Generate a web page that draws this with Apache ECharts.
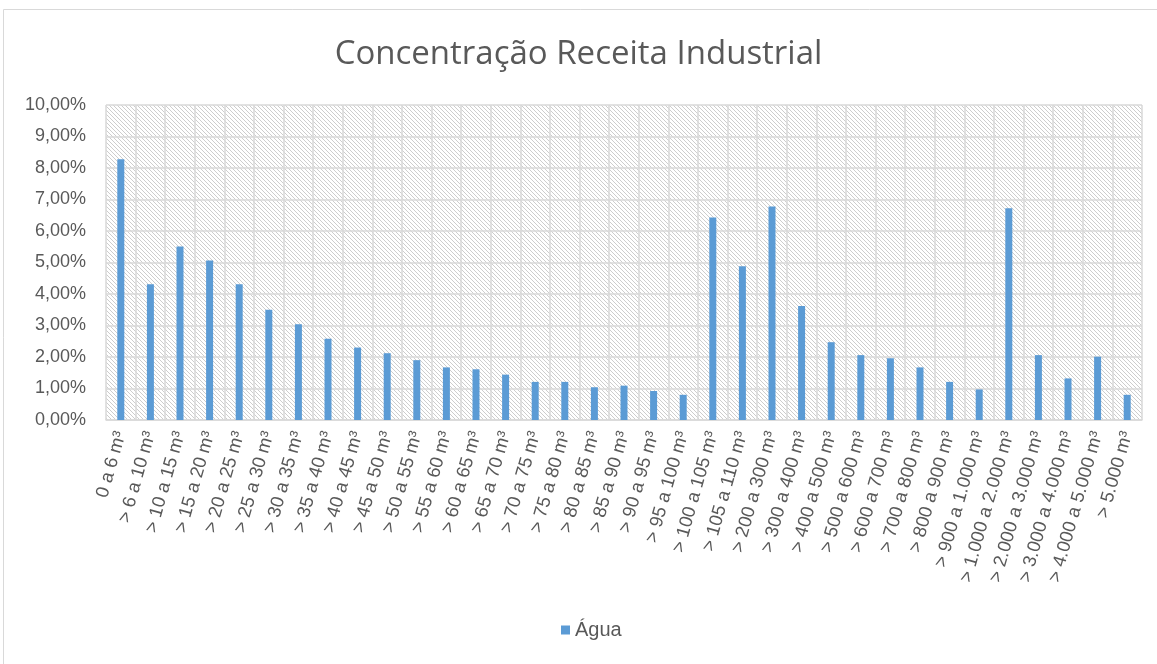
<!DOCTYPE html>
<html><head><meta charset="utf-8">
<script src="https://cdn.jsdelivr.net/npm/echarts@6/dist/echarts.min.js"></script>
<style>html,body{margin:0;padding:0;background:#fff;}#c{width:1157px;height:664px;}</style>
</head><body><div id="c"></div>
<script>
const categories = ["0 a 6 m³","> 6 a 10 m³","> 10 a 15 m³","> 15 a 20 m³","> 20 a 25 m³","> 25 a 30 m³","> 30 a 35 m³","> 35 a 40 m³","> 40 a 45 m³","> 45 a 50 m³","> 50 a 55 m³","> 55 a 60 m³","> 60 a 65 m³","> 65 a 70 m³","> 70 a 75 m³","> 75 a 80 m³","> 80 a 85 m³","> 85 a 90 m³","> 90 a 95 m³","> 95 a 100 m³","> 100 a 105 m³","> 105 a 110 m³","> 200 a 300 m³","> 300 a 400 m³","> 400 a 500 m³","> 500 a 600 m³","> 600 a 700 m³","> 700 a 800 m³","> 800 a 900 m³","> 900 a 1.000 m³","> 1.000 a 2.000 m³","> 2.000 a 3.000 m³","> 3.000 a 4.000 m³","> 4.000 a 5.000 m³","> 5.000 m³"];
const agua = [8.28,4.31,5.51,5.06,4.31,3.50,3.04,2.58,2.30,2.12,1.90,1.67,1.61,1.44,1.21,1.21,1.04,1.09,0.92,0.80,6.43,4.88,6.78,3.62,2.47,2.06,1.96,1.67,1.21,0.97,6.72,2.06,1.32,2.01,0.80];
const seriesName = "Água";
const titleText = "Concentração Receita Industrial";

const tile = document.createElement('canvas');
tile.width = 4; tile.height = 4;
const tc = tile.getContext('2d');
tc.fillStyle = '#ffffff'; tc.fillRect(0,0,4,4);
tc.strokeStyle = '#cdcdcd'; tc.lineWidth = 1;
tc.beginPath(); tc.moveTo(-1,-1); tc.lineTo(5,5); tc.stroke();

const chart = echarts.init(document.getElementById('c'));
chart.setOption({
  animation: false,
  backgroundColor: '#ffffff',
  title: {text: titleText, left: 'center', top: 33,
    textStyle: {fontFamily: "'Open Sans','Liberation Sans',sans-serif", fontSize: 33, fontWeight: 'normal', color: '#595959'}},
  graphic: [
    {type:'rect', shape:{x:3.5, y:9.5, width:1160, height:660}, style:{fill:'none', stroke:'#d9d9d9', lineWidth:1}}
  ],
  legend: {bottom: 19, left: 556, itemWidth: 9, itemHeight: 9, icon: 'rect', itemGap: 6,
    textStyle: {fontFamily: "'Liberation Sans',sans-serif", fontSize: 20, color: '#595959'}},
  grid: {left: 106, right: 15, top: 105, bottom: 244, show: true, borderWidth: 0,
    backgroundColor: {image: tile, repeat: 'repeat'}},
  xAxis: {type: 'category', data: categories, boundaryGap: true,
    axisLine: {show: true, lineStyle: {color: '#d9d9d9', width: 1.5}},
    axisTick: {show: false},
    splitLine: {show: true, interval: 0, lineStyle: {color: '#d9d9d9', width: 1.5}},
    axisLabel: {interval: 0, rotate: 74, fontFamily: "'Liberation Sans',sans-serif", fontSize: 18.5, color: '#595959', margin: 12}},
  yAxis: {type: 'value', min: 0, max: 10, interval: 1,
    axisLine: {show: false}, axisTick: {show: false},
    splitLine: {lineStyle: {color: '#d9d9d9', width: 1.5}},
    axisLabel: {formatter: v => v.toFixed(2).replace('.', ',') + '%', fontFamily: "'Liberation Sans',sans-serif", fontSize: 18, color: '#595959', margin: 20}},
  series: [{name: seriesName, type: 'bar', data: agua, barWidth: 7, itemStyle: {color: '#5B9BD5'}}]
});
</script></body></html>
